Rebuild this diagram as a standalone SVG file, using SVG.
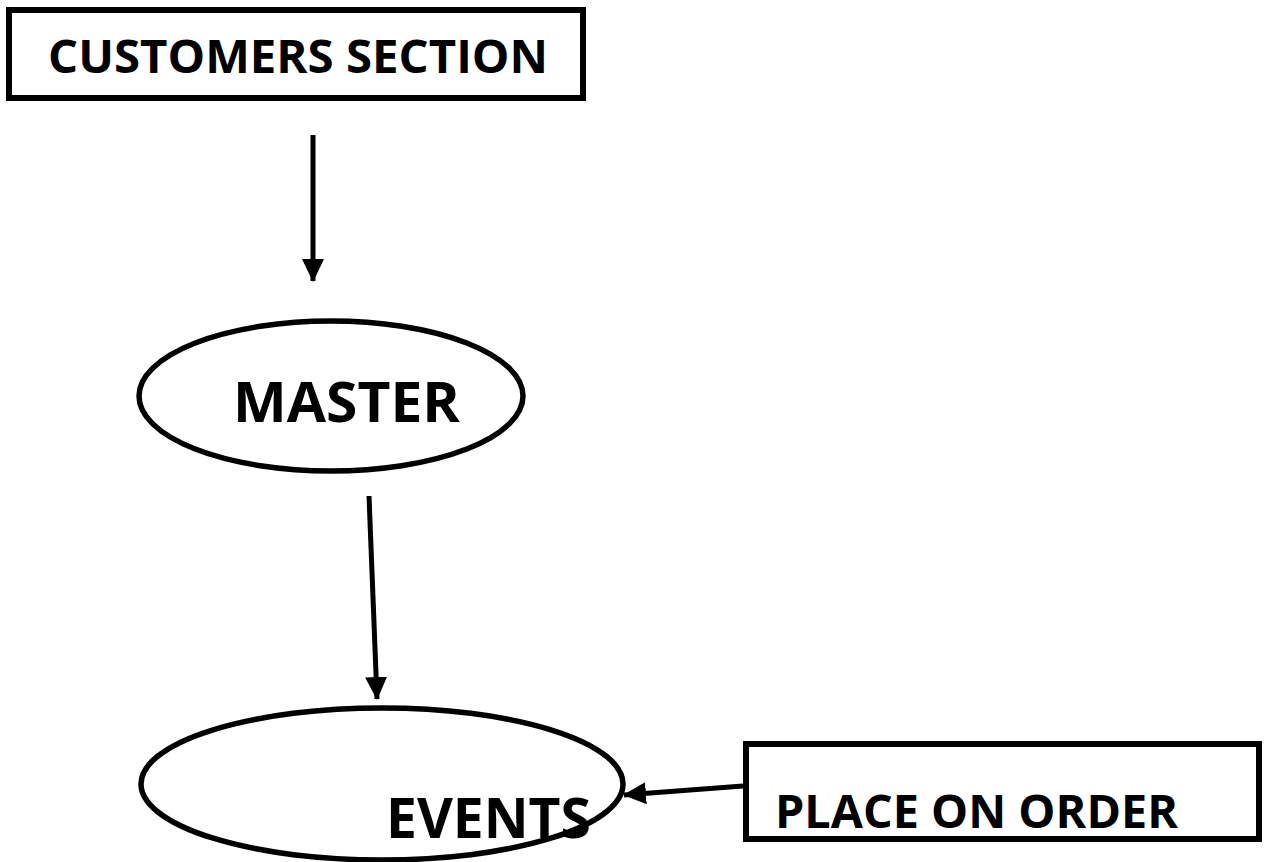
<svg xmlns="http://www.w3.org/2000/svg" width="1264" height="862" viewBox="0 0 1264 862">
<style>
.box{fill:#fff;stroke:#000;stroke-width:6}
.ell{fill:#fff;stroke:#000;stroke-width:5.5}
.lbl{font-family:"Open Sans","Liberation Sans",Arial,sans-serif;font-weight:bold;fill:#000}
.conn{stroke:#000;stroke-width:5;fill:none}
</style>
<defs>
<marker id="ah" markerUnits="userSpaceOnUse" markerWidth="24" markerHeight="24" viewBox="0 0 24 24" refX="22" refY="12" orient="auto">
<polygon points="0,1 23,12 0,23" fill="#000"/>
</marker>
</defs>
<rect width="1264" height="862" fill="#fff"/>
<g id="customers-section">
<rect class="box" x="9" y="10" width="574" height="88"/>
<text class="lbl" x="48" y="73" font-size="46" textLength="500" lengthAdjust="spacingAndGlyphs">CUSTOMERS SECTION</text>
</g>
<g id="master">
<ellipse class="ell" cx="331" cy="396" rx="192" ry="75"/>
<text class="lbl" x="233" y="422" font-size="55" textLength="227" lengthAdjust="spacingAndGlyphs">MASTER</text>
</g>
<g id="events">
<ellipse class="ell" cx="382" cy="784" rx="241" ry="76"/>
</g>
<g id="place-on-order">
<rect class="box" x="746" y="744" width="513" height="95"/>
<text class="lbl" x="775" y="828" font-size="47" textLength="403" lengthAdjust="spacingAndGlyphs">PLACE ON ORDER</text>
</g>
<g id="connectors">
<line class="conn" x1="313" y1="135" x2="313" y2="281" marker-end="url(#ah)"/>
<line class="conn" x1="369" y1="496" x2="377" y2="699" marker-end="url(#ah)"/>
<line class="conn" x1="743" y1="786" x2="624" y2="795" marker-end="url(#ah)"/>
</g>
<g id="events-label">
<text class="lbl" x="386" y="838" font-size="55" textLength="205" lengthAdjust="spacingAndGlyphs">EVENTS</text>
</g>
</svg>
